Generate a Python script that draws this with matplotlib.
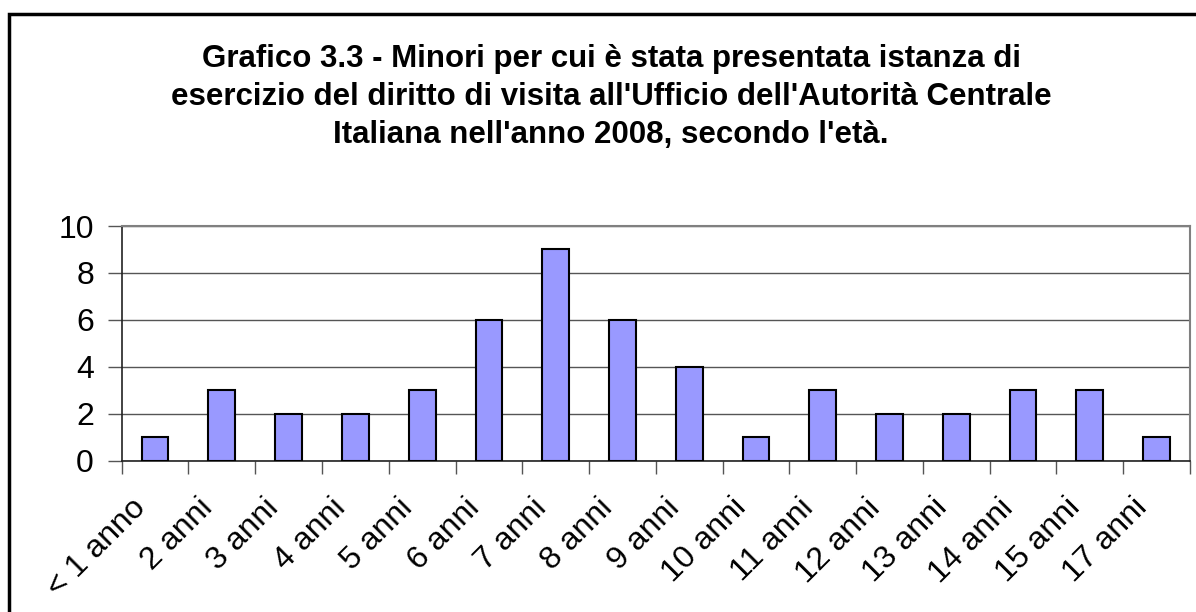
import numpy as np
import matplotlib.pyplot as plt
from matplotlib.patches import Rectangle
from matplotlib.transforms import ScaledTranslation

plt.rcParams['font.family'] = ['Liberation Sans', 'DejaVu Sans']

categories = ["< 1 anno", "2 anni", "3 anni", "4 anni", "5 anni", "6 anni",
              "7 anni", "8 anni", "9 anni", "10 anni", "11 anni", "12 anni",
              "13 anni", "14 anni", "15 anni", "17 anni"]
values = [1, 3, 2, 2, 3, 6, 9, 6, 4, 1, 3, 2, 2, 3, 3, 1]
title = ("Grafico 3.3 - Minori per cui è stata presentata istanza di\n"
         "esercizio del diritto di visita all'Ufficio dell'Autorità Centrale\n"
         "Italiana nell'anno 2008, secondo l'età.")

W, H = 1196, 612
fig = plt.figure(figsize=(W / 100, H / 100), dpi=100)

# outer chart border (right and bottom run off the image)
fig.patches.append(Rectangle((9 / W, -0.05), 1.1, 1 - 14 / H + 0.05,
                             transform=fig.transFigure, fill=False,
                             edgecolor='black', lw=2.5))

left, right, top, bottom = 121.7, 1190, 226, 460.5
ax = fig.add_axes([left / W, 1 - bottom / H, (right - left) / W, (bottom - top) / H])

x = np.arange(len(values))
ax.bar(x, values, width=0.4, color='#9999FF', edgecolor='black', lw=1.5, zorder=3)

ax.set_xlim(-0.5, len(values) - 0.5)
ax.set_ylim(0, 10)
ax.set_yticks(range(0, 11, 2))
ax.yaxis.grid(True, color='#555555', lw=1, zorder=0)

# category labels drawn as rotated text, offset like Excel does
ax.set_xticks(np.arange(-0.5, len(values)))
ax.set_xticklabels([])
ax.tick_params(axis='x', length=9, width=1, color='#555555')
off = ax.get_xaxis_transform() + ScaledTranslation(-0.14, -0.43, fig.dpi_scale_trans)
for xi, lab in zip(x, categories):
    ax.text(xi, 0, lab, transform=off, rotation=45, ha='right', va='center',
            rotation_mode='anchor', fontsize=23)

ax.tick_params(axis='y', length=10, width=1, color='#555555', labelsize=23, pad=10)

for s in ['top', 'right']:
    ax.spines[s].set_color('#808080')
    ax.spines[s].set_linewidth(1.5)
for s in ['left', 'bottom']:
    ax.spines[s].set_color('#222222')
    ax.spines[s].set_linewidth(1.2)

fig.text(611 / W, 1 - 97 / H, title, ha='center', va='center', fontsize=22.5,
         fontweight='bold', linespacing=1.35)

fig.savefig('out.png', dpi=100)
